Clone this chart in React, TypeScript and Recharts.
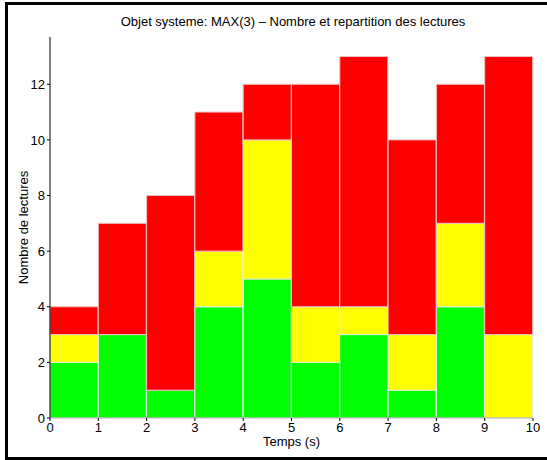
import React from 'react';
import { BarChart, Bar, XAxis, YAxis, Label } from 'recharts';

const TIMES = [0.5, 1.5, 2.5, 3.5, 4.5, 5.5, 6.5, 7.5, 8.5, 9.5];
const GREEN = [2, 3, 1, 4, 5, 2, 3, 1, 4, 0];
const YELLOW = [1, 0, 0, 2, 5, 2, 1, 2, 3, 3];
const RED = [1, 4, 7, 5, 2, 8, 9, 7, 5, 10];
const X_TICKS = [0, 1, 2, 3, 4, 5, 6, 7, 8, 9, 10];
const Y_TICKS = [0, 2, 4, 6, 8, 10, 12];

const data = TIMES.map((t, i) => ({ t, vert: GREEN[i], jaune: YELLOW[i], rouge: RED[i] }));

const FONT = 'Liberation Sans, Arial, Helvetica, sans-serif';
const tickStyle = { fontSize: 13, fill: '#000', fontFamily: FONT };

export default function App() {
    return (
        <div style={{ position: 'absolute', left: 0, top: 0, width: 547, height: 460, overflow: 'hidden', background: '#fff' }}>
            <div
                style={{
                    position: 'absolute', left: 5, top: 2, width: 600, height: 458,
                    boxSizing: 'border-box', border: '3px solid #000',
                }}
            />
            <div style={{ position: 'absolute', left: 0, top: 0 }}>
                <BarChart
                    width={547}
                    height={460}
                    data={data}
                    margin={{ top: 37, right: 14, left: 10, bottom: 12 }}
                    barCategoryGap={0}
                    barGap={0}
                >
                    <text x={293} y={26} textAnchor="middle" fontSize={13} fontFamily={FONT} fill="#000">
                        Objet systeme: MAX(3) – Nombre et repartition des lectures
                    </text>
                    <XAxis
                        dataKey="t"
                        type="number"
                        domain={[0, 10]}
                        ticks={X_TICKS}
                        interval={0}
                        height={30}
                        tickSize={3}
                        tick={tickStyle}
                        tickLine={{ stroke: '#000' }}
                        axisLine={{ stroke: '#aaa' }}
                    >
                        <Label value="Temps (s)" position="insideBottom" offset={2} style={{ fontSize: 13, fill: '#000', fontFamily: FONT }} />
                    </XAxis>
                    <YAxis
                        type="number"
                        domain={[0, 13.7]}
                        allowDataOverflow
                        ticks={Y_TICKS}
                        width={40}
                        tickSize={3}
                        tick={tickStyle}
                        tickLine={{ stroke: '#000' }}
                        axisLine={{ stroke: '#000' }}
                    >
                        <Label
                            value="Nombre de lectures"
                            angle={-90}
                            position="insideLeft"
                            offset={13}
                            style={{ fontSize: 13, fill: '#000', fontFamily: FONT, textAnchor: 'middle' }}
                        />
                    </YAxis>
                    <Bar dataKey="vert" stackId="a" fill="#00ff00" stroke="#e8e8e8" strokeWidth={1} isAnimationActive={false} />
                    <Bar dataKey="jaune" stackId="a" fill="#ffff00" stroke="#e8e8e8" strokeWidth={1} isAnimationActive={false} />
                    <Bar dataKey="rouge" stackId="a" fill="#ff0000" stroke="#f0c0c0" strokeWidth={1} isAnimationActive={false} />
                </BarChart>
            </div>
        </div>
    );
}
